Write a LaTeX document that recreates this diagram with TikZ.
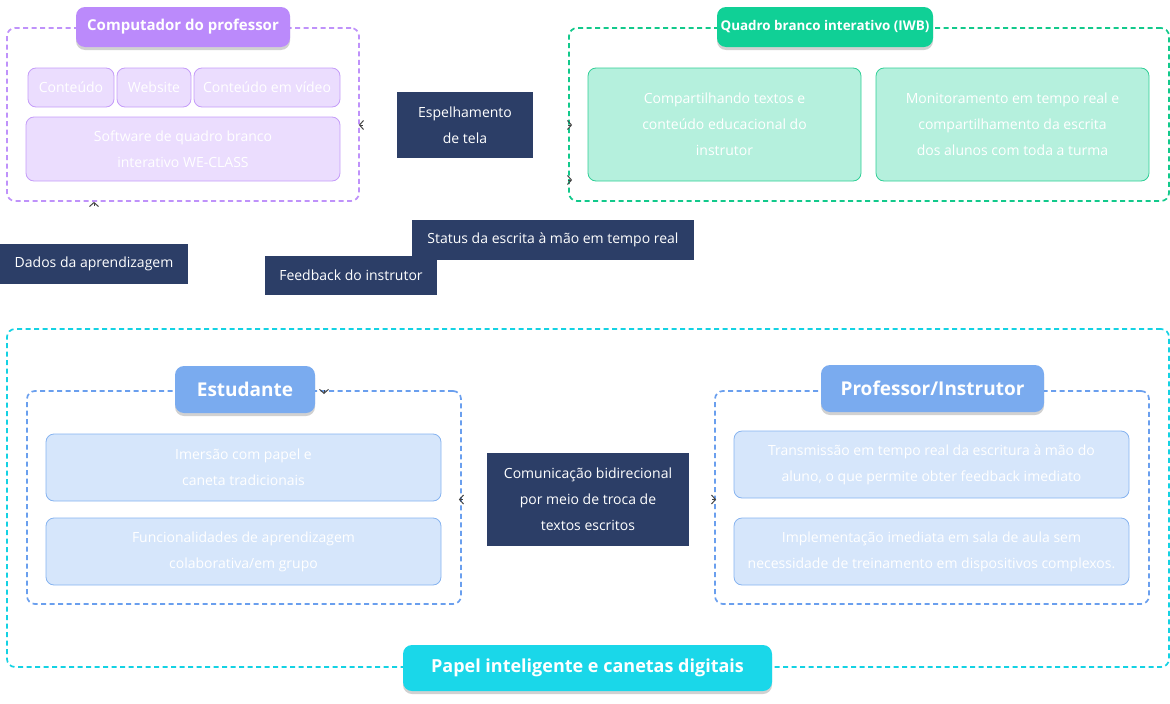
\documentclass[tikz,border=0pt]{standalone}
\usepackage{fontspec}
\setmainfont{Open Sans}
\usetikzlibrary{arrows.meta,shadows}
\definecolor{purB}{HTML}{BF92FA}
\definecolor{purT}{HTML}{BB8AFB}
\definecolor{purF}{HTML}{EBDDFE}
\definecolor{purL}{HTML}{C59DF9}
\definecolor{grnB}{HTML}{12C98B}
\definecolor{grnT}{HTML}{10D096}
\definecolor{grnF}{HTML}{B5F0DD}
\definecolor{grnL}{HTML}{2FCF96}
\definecolor{cyaB}{HTML}{14D2E3}
\definecolor{cyaT}{HTML}{1AD7E9}
\definecolor{bluB}{HTML}{6A9FEE}
\definecolor{bluT}{HTML}{7AABEF}
\definecolor{bluF}{HTML}{D6E6FB}
\definecolor{bluL}{HTML}{86B3F0}
\definecolor{navy}{HTML}{2C3E67}
\definecolor{chevc}{HTML}{444444}
\tikzset{
  grp/.style={draw=#1, dash pattern=on 5pt off 3.5pt, line width=1.7pt, rounded corners=8pt, inner sep=0pt},
  ttl/.style={fill=#1, rounded corners=9pt, text=white, font=\bfseries\fontsize{15}{18}\selectfont, inner sep=0pt,
    drop shadow={opacity=0.18, shadow xshift=0pt, shadow yshift=-3pt, fill=black}},
  inr/.style n args={2}{fill=#1, draw=#2, line width=0.8pt, rounded corners=8pt, text=white, align=center,
    font=\fontsize{14}{26}\selectfont, inner sep=0pt},
  lbl/.style={fill=navy, text=white, align=center, font=\fontsize{14}{26}\selectfont, inner sep=0pt},
  chev/.style={-{Straight Barb[length=4pt,width=9pt,line width=1pt]}, draw=chevc, line width=1pt},
}
\begin{document}
\begin{tikzpicture}[x=1pt,y=-1pt]
\useasboundingbox (0,0) rectangle (1170,704);
% Computer group
\node[grp=purB, minimum width=352pt, minimum height=173pt] (cpg) at (183,114.5) {};
\node[ttl=purT, minimum width=214pt, minimum height=40pt] (cpt) at (183,27) {Computador do professor};
\node[inr={purF}{purL}, minimum width=86pt, minimum height=39pt] (c1) at (71,87.5) {Conteúdo};
\node[inr={purF}{purL}, minimum width=74pt, minimum height=39pt] (c2) at (154,87.5) {Website};
\node[inr={purF}{purL}, minimum width=146pt, minimum height=39pt] (c3) at (267,87.5) {Conteúdo em vídeo};
\node[inr={purF}{purL}, minimum width=314pt, minimum height=64pt] (c4) at (183,149) {Software de quadro branco\\interativo WE-CLASS};
% IWB group
\node[grp=grnB, minimum width=600pt, minimum height=173pt] (iwg) at (869,114.5) {};
\node[ttl=grnT, minimum width=216pt, minimum height=40pt, font=\bfseries\fontsize{13.4}{16}\selectfont] (iwt) at (825,27) {Quadro branco interativo (IWB)};
\node[inr={grnF}{grnL}, minimum width=273pt, minimum height=113pt] (i1) at (724.5,124.5) {Compartilhando textos e\\conteúdo educacional do\\instrutor};
\node[inr={grnF}{grnL}, minimum width=273pt, minimum height=113pt] (i2) at (1012.5,124.5) {Monitoramento em tempo real e\\compartilhamento da escrita\\dos alunos com toda a turma};
% Labels
\node[lbl, minimum width=136pt, minimum height=66pt] (esp) at (465,125) {Espelhamento\\de tela};
\node[lbl, minimum width=188pt, minimum height=40pt] (dad) at (94,264) {Dados da aprendizagem};
\node[lbl, minimum width=282pt, minimum height=40pt] (sta) at (553,240) {Status da escrita à mão em tempo real};
\node[lbl, minimum width=172pt, minimum height=39pt] (fee) at (351,275.5) {Feedback do instrutor};
% Outer group
\node[grp=cyaB, minimum width=1162pt, minimum height=338pt] (pag) at (588,498) {};
\node[ttl=cyaT, minimum width=369pt, minimum height=46pt, font=\bfseries\fontsize{18}{22}\selectfont] (pat) at (587.5,668) {Papel inteligente e canetas digitais};
% Student group
\node[grp=bluB, minimum width=434pt, minimum height=213pt] (stg) at (244,497.5) {};
\node[ttl=bluT, minimum width=140pt, minimum height=47pt, font=\bfseries\fontsize{19}{22}\selectfont] (stt) at (245,389.5) {Estudante};
\node[inr={bluF}{bluL}, minimum width=395pt, minimum height=67pt] (s1) at (243.5,467.5) {Imersão com papel e\\caneta tradicionais};
\node[inr={bluF}{bluL}, minimum width=395pt, minimum height=67pt] (s2) at (243.5,551.5) {Funcionalidades de aprendizagem\\colaborativa/em grupo};
% Professor group
\node[grp=bluB, minimum width=434pt, minimum height=213pt] (prg) at (932,497.5) {};
\node[ttl=bluT, minimum width=223pt, minimum height=47pt, font=\bfseries\fontsize{19}{22}\selectfont] (prt) at (932.5,388.5) {Professor/Instrutor};
\node[inr={bluF}{bluL}, minimum width=395pt, minimum height=67pt] (p1) at (931.5,464.5) {Transmissão em tempo real da escritura à mão do\\aluno, o que permite obter feedback imediato};
\node[inr={bluF}{bluL}, minimum width=395pt, minimum height=67pt] (p2) at (931.5,551.5) {Implementação imediata em sala de aula sem\\necessidade de treinamento em dispositivos complexos.};
% Communication label
\node[lbl, minimum width=202pt, minimum height=93pt] (com) at (588,499.5) {Comunicação bidirecional\\por meio de troca de\\textos escritos};
% Connector ends (chevrons)
\coordinate (y180) at (0,180);
\coordinate (a1) at ([xshift=-1pt]cpg.east |- esp);
\draw[chev] ([xshift=4pt]a1) -- (a1);
\coordinate (a2) at ([xshift=4pt]iwg.west |- esp);
\draw[chev] ([xshift=-4pt]a2) -- (a2);
\coordinate (a3) at ([xshift=4pt]iwg.west |- y180);
\draw[chev] ([xshift=-4pt]a3) -- (a3);
\coordinate (a4) at ([yshift=0pt]cpg.south -| dad);
\draw[chev] ([yshift=-4pt]a4) -- (a4);
\coordinate (a5) at (324,394);
\draw[chev] ([yshift=4pt]a5) -- (a5);
\coordinate (a6) at ([xshift=-3pt]stg.east |- com);
\draw[chev] ([xshift=4pt]a6) -- (a6);
\coordinate (a7) at ([xshift=2pt]prg.west |- com);
\draw[chev] ([xshift=-4pt]a7) -- (a7);
\end{tikzpicture}
\end{document}
